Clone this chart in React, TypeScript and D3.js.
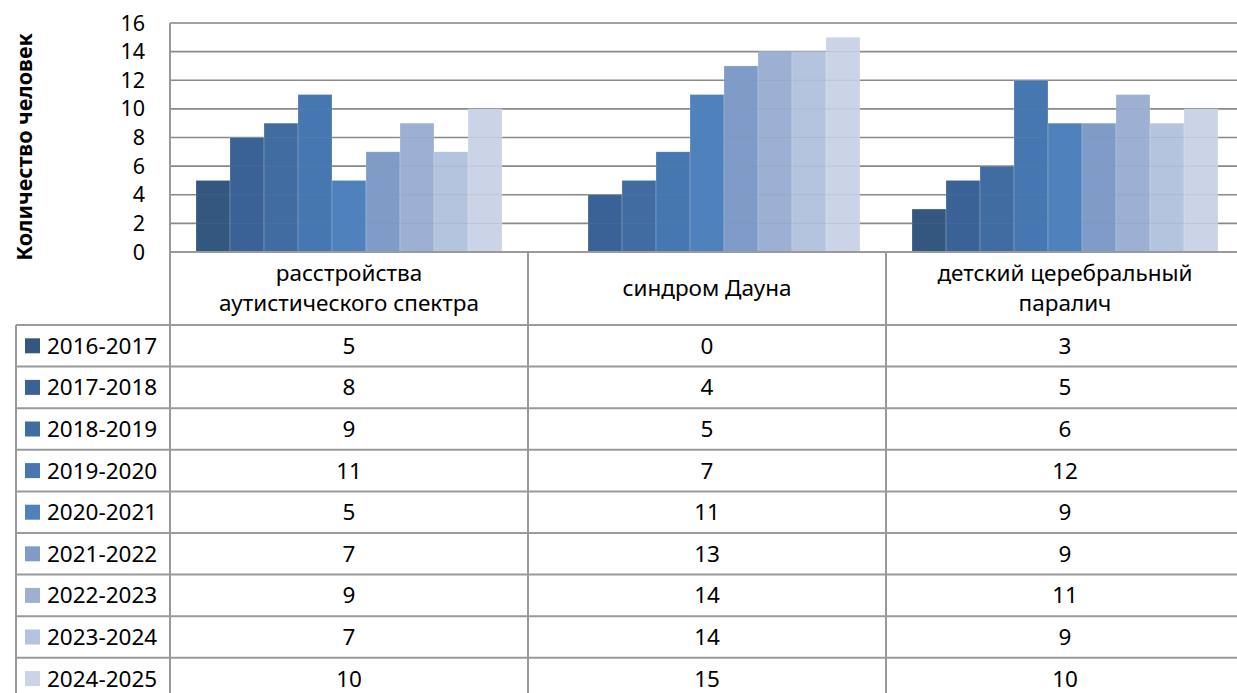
import React from "react";
import * as d3 from "d3";

const categoryLines: string[][] = [
  ["расстройства", "аутистического спектра"],
  ["синдром Дауна"],
  ["детский церебральный", "паралич"],
];
const categories = categoryLines.map((l) => l.join(" "));
const seriesNames = [
  "2016-2017",
  "2017-2018",
  "2018-2019",
  "2019-2020",
  "2020-2021",
  "2021-2022",
  "2022-2023",
  "2023-2024",
  "2024-2025",
];
const v2016 = [5, 0, 3];
const v2017 = [8, 4, 5];
const v2018 = [9, 5, 6];
const v2019 = [11, 7, 12];
const v2020 = [5, 11, 9];
const v2021 = [7, 13, 9];
const v2022 = [9, 14, 11];
const v2023 = [7, 14, 9];
const v2024 = [10, 15, 10];
const seriesValues = [v2016, v2017, v2018, v2019, v2020, v2021, v2022, v2023, v2024];
const colors = [
  "#34577f",
  "#3a6296",
  "#416ca1",
  "#4777b1",
  "#4f81bd",
  "#7f9cc8",
  "#9bb0d3",
  "#b4c3de",
  "#cad4e6",
];
const yTicks = [0, 2, 4, 6, 8, 10, 12, 14, 16];
const yTitle = "Количество человек";

const W = 1237;
const H = 693;
const plotLeft = 170;
const plotRight = 1244;
const plotTop = 23;
const plotBottom = 252;
const headerBottom = 325;
const rowH = 41.6;
const legendLeft = 16;
const FONT = "'Noto Sans', 'Open Sans', sans-serif";
const lineColor = "#9a9a9a";
const gridColor = "#8a8a8a";
const tableFont = 22.5;

export default function App() {
  const x0 = d3.scaleBand<string>().domain(categories).range([plotLeft, plotRight]).paddingInner(0).paddingOuter(0);
  const x1 = d3.scaleBand<string>().domain(seriesNames).range([0, x0.bandwidth()]).paddingInner(0).paddingOuter(0.765);
  const y = d3.scaleLinear().domain([0, 16]).range([plotBottom, plotTop]);
  const tableBottom = headerBottom + rowH * seriesNames.length;

  return (
    <svg
      width={W}
      height={H}
      style={{ position: "absolute", left: 0, top: 0, background: "#fff" }}
      fontFamily={FONT}
    >
      <rect x={0} y={0} width={W} height={H} fill="#fff" />
      {yTicks.map((t) => (
        <line key={"g" + t} x1={plotLeft} x2={plotRight} y1={y(t)} y2={y(t)} stroke={gridColor} strokeWidth={1.6} />
      ))}
      {seriesNames.map((s, si) =>
        categories.map((c, ci) => {
          const v = seriesValues[si][ci];
          if (v <= 0) return null;
          return (
            <rect
              key={s + c}
              x={(x0(c) as number) + (x1(s) as number)}
              y={y(v)}
              width={x1.bandwidth()}
              height={y(0) - y(v)}
              fill={colors[si]}
              stroke="rgba(255,255,255,0.25)"
              strokeWidth={0.8}
            />
          );
        })
      )}
      {yTicks.map((t) => (
        <line key={"gf" + t} x1={plotLeft} x2={plotRight} y1={y(t)} y2={y(t)} stroke="rgba(140,140,140,0.18)" strokeWidth={1} />
      ))}
      {yTicks.map((t) => (
        <text key={"t" + t} x={145} y={y(t) + 7.5} textAnchor="end" fontSize={21.5} fill="#000">
          {t}
        </text>
      ))}
      <text
        transform={`translate(32, 147) rotate(-90)`}
        textAnchor="middle"
        fontSize={21.5}
        fontWeight="bold"
        fill="#000"
      >
        {yTitle}
      </text>
      <line x1={plotLeft} x2={plotRight} y1={plotBottom} y2={plotBottom} stroke={lineColor} strokeWidth={2} />
      {seriesNames.map((s, i) => (
        <line
          key={"h" + s}
          x1={legendLeft}
          x2={plotRight}
          y1={headerBottom + i * rowH}
          y2={headerBottom + i * rowH}
          stroke={lineColor}
          strokeWidth={2}
        />
      ))}
      <line x1={legendLeft} x2={plotRight} y1={tableBottom} y2={tableBottom} stroke={lineColor} strokeWidth={2} />
      <line x1={legendLeft} x2={legendLeft} y1={headerBottom} y2={tableBottom} stroke={lineColor} strokeWidth={2} />
      <line x1={plotLeft} x2={plotLeft} y1={plotTop} y2={tableBottom} stroke={lineColor} strokeWidth={2} />
      {categories.map((c, i) =>
        i === 0 ? null : (
          <line key={"v" + c} x1={x0(c)} x2={x0(c)} y1={plotBottom} y2={tableBottom} stroke={lineColor} strokeWidth={2} />
        )
      )}
      {categoryLines.map((lines, ci) => {
        const cx = (x0(categories[ci]) as number) + x0.bandwidth() / 2;
        const mid = (plotBottom + headerBottom) / 2;
        const lh = 30;
        const start = mid + 7 - ((lines.length - 1) * lh) / 2;
        return lines.map((l, li) => (
          <text key={"c" + ci + li} x={cx} y={start + li * lh} textAnchor="middle" fontSize={tableFont} fill="#000">
            {l}
          </text>
        ));
      })}
      {seriesNames.map((s, si) => {
        const top = headerBottom + si * rowH;
        const cy = top + rowH / 2;
        return (
          <g key={"r" + s}>
            <rect x={25} y={cy - 7.5} width={15} height={15} fill={colors[si]} />
            <text x={47} y={cy + 8} fontSize={tableFont} fill="#000">
              {s}
            </text>
            {categories.map((c, ci) => (
              <text
                key={c}
                x={(x0(c) as number) + x0.bandwidth() / 2}
                y={cy + 8}
                textAnchor="middle"
                fontSize={tableFont}
                fill="#000"
              >
                {seriesValues[si][ci]}
              </text>
            ))}
          </g>
        );
      })}
    </svg>
  );
}
